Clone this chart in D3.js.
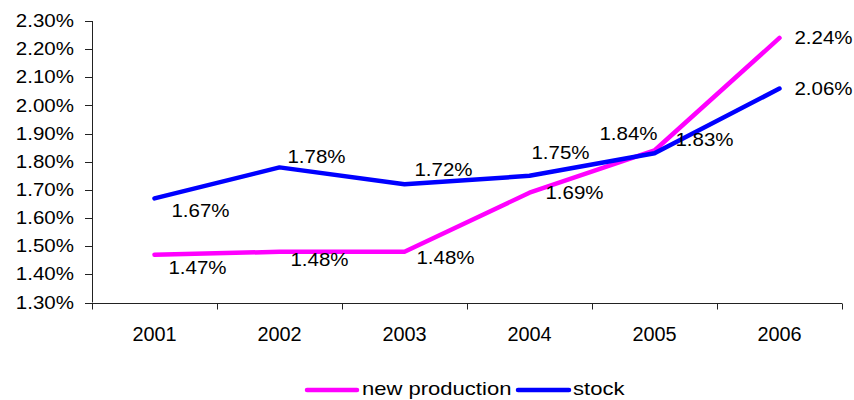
<!DOCTYPE html>
<html><head><meta charset="utf-8">
<script src="https://cdn.jsdelivr.net/npm/d3@7"></script>
<style>body{margin:0;background:#fff}svg{display:block}text{font-family:"Liberation Sans",Arial,sans-serif;fill:#000}</style>
</head><body><svg id="c" width="854" height="400"></svg>
<script>
const years = ["2001","2002","2003","2004","2005","2006"];
const newProduction = [1.47, 1.48, 1.48, 1.69, 1.84, 2.24];
const stock = [1.67, 1.78, 1.72, 1.75, 1.83, 2.06];
const yTicks = [1.3,1.4,1.5,1.6,1.7,1.8,1.9,2.0,2.1,2.2,2.3];
const seriesNames = ["new production","stock"];
const seriesColors = ["#ff00ff","#0000ff"];
// label offsets (layout) relative to each point
const npLabelOff = [[43,13],[40,8],[41,6],[45,0],[-26,-17],[44,0]];
const stLabelOff = [[46,13],[37,-10],[39,-14],[31,-23],[50,-13],[44,0]];

const svg = d3.select("#c");
const x = d3.scaleBand().domain(years).range([92,842]).padding(0);
const y = d3.scaleLinear().domain([1.3,2.3]).range([302.5,21]);
const fmt = v => v.toFixed(2) + "%";

function txt(g, px, py, s, anchor, fs, sx){
  return g.append("text").attr("transform",`translate(${px},${py}) scale(${sx||1.14},1)`)
    .attr("text-anchor",anchor||"middle").attr("dominant-baseline","central")
    .attr("font-size",fs||18).text(s);
}

// y axis
const ya = svg.append("g");
ya.append("line").attr("x1",92.5).attr("x2",92.5).attr("y1",y(2.3)).attr("y2",y(1.3)).attr("stroke","#222");
yTicks.forEach(t=>{
  const yy = Math.round(y(t))+0.5;
  ya.append("line").attr("x1",85).attr("x2",92.5).attr("y1",yy).attr("y2",yy).attr("stroke","#222");
  txt(ya, 74, y(t), fmt(t), "end");
});
// x axis
const xa = svg.append("g");
const y0 = Math.round(y(1.3))+0.5;
xa.append("line").attr("x1",85).attr("x2",842).attr("y1",y0).attr("y2",y0).attr("stroke","#222");
const bounds = years.map(d=>x(d)).concat([x.range()[1]]);
bounds.forEach(b=>{
  const bx = Math.round(b)+0.5;
  xa.append("line").attr("x1",bx).attr("x2",bx).attr("y1",y0).attr("y2",y0+6).attr("stroke","#222");
});
years.forEach(d=> txt(xa, x(d)+x.bandwidth()/2, 334, d, "middle", 19.5, 1.02));

const cx = d => x(d)+x.bandwidth()/2;
const line = d3.line().x((v,i)=>cx(years[i])).y(v=>y(v));
const data = [newProduction, stock];
const offs = [npLabelOff, stLabelOff];
data.forEach((s,k)=>{
  svg.append("path").attr("d",line(s)).attr("fill","none").attr("stroke",seriesColors[k])
    .attr("stroke-width",4.5).attr("stroke-linejoin","round").attr("stroke-linecap","round");
});
data.forEach((s,k)=>{
  const g = svg.append("g");
  s.forEach((v,i)=> txt(g, cx(years[i])+offs[k][i][0], y(v)+offs[k][i][1], fmt(v)));
});

// legend
const lg = svg.append("g");
const legItems = [{x1:307,x2:357,tx:362},{x1:518,x2:569,tx:573}];
seriesNames.forEach((n,k)=>{
  const it = legItems[k];
  lg.append("line").attr("x1",it.x1).attr("x2",it.x2).attr("y1",390).attr("y2",390)
    .attr("stroke",seriesColors[k]).attr("stroke-width",4.5).attr("stroke-linecap","round");
  txt(lg, it.tx, 388.5, n, "start", 19, 1.16);
});
</script></body></html>
